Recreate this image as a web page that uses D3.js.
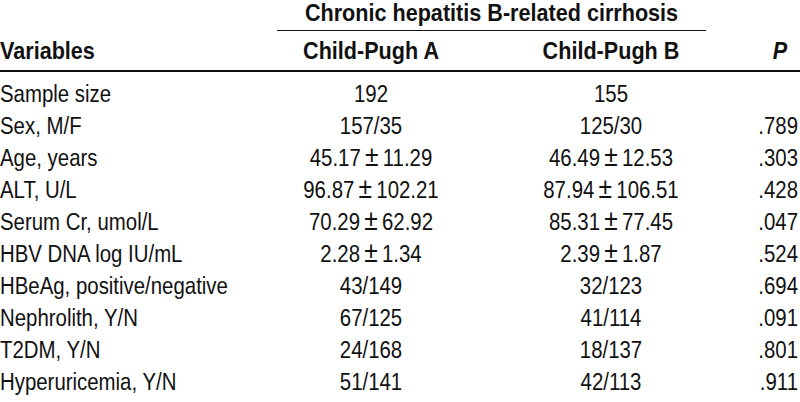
<!DOCTYPE html>
<html>
<head>
<meta charset="utf-8">
<script src="https://cdn.jsdelivr.net/npm/d3@7"></script>
<style>
  html, body { margin: 0; padding: 0; background: #fff; }
  svg { display: block; }
  text { font-family: "Liberation Sans", Arial, sans-serif; fill: #111; }
</style>
</head>
<body>
<svg id="chart" width="800" height="402"></svg>
<script>
const spanningHeader = "Chronic hepatitis B-related cirrhosis";
const columnHeaders = ["Variables", "Child-Pugh A", "Child-Pugh B", "P"];
const variables = ["Sample size", "Sex, M/F", "Age, years", "ALT, U/L", "Serum Cr, umol/L",
  "HBV DNA log IU/mL", "HBeAg, positive/negative", "Nephrolith, Y/N", "T2DM, Y/N", "Hyperuricemia, Y/N"];
const childPughA = ["192", "157/35", "45.17\u00B111.29", "96.87\u00B1102.21", "70.29\u00B162.92",
  "2.28\u00B11.34", "43/149", "67/125", "24/168", "51/141"];
const childPughB = ["155", "125/30", "46.49\u00B112.53", "87.94\u00B1106.51", "85.31\u00B177.45",
  "2.39\u00B11.87", "32/123", "41/114", "18/137", "42/113"];
const pValues = ["", ".789", ".303", ".428", ".047", ".524", ".694", ".091", ".801", ".911"];

const W = 800, H = 402;
const svg = d3.select("#chart");
const fs = 24;
const sxReg = 0.85, sxBold = 0.9;

const colX = d3.scaleOrdinal().domain(["var", "A", "B", "P"]).range([0, 371, 611, 780]);
const rowY = d3.scalePoint().domain(d3.range(variables.length)).range([102, 390]);

function condensedText(sel, x, y, sx) {
  return sel.attr("transform", `translate(${x},${y}) scale(${sx},1)`);
}

function fillValue(t, s) {
  const parts = s.split("\u00B1");
  t.text(null);
  if (parts.length === 1) { t.text(s); return; }
  t.append("tspan").text(parts[0]);
  t.append("tspan").attr("dx", 5).attr("font-size", 29).text("\u00B1");
  t.append("tspan").attr("dx", 5).text(parts[1]);
}

// spanning header
const spanL = 277, spanR = 706;
condensedText(svg.append("text"), (spanL + spanR) / 2, 21, sxBold)
  .attr("text-anchor", "middle")
  .attr("font-size", fs).attr("font-weight", "bold")
  .text(spanningHeader);
svg.append("line")
  .attr("x1", spanL).attr("x2", spanR).attr("y1", 30.5).attr("y2", 30.5)
  .attr("stroke", "#111").attr("stroke-width", 1.2);

// column headers
const keys = ["var", "A", "B", "P"];
svg.selectAll("text.colhead").data(columnHeaders).join("text")
  .attr("class", "colhead")
  .attr("transform", (d, i) => `translate(${colX(keys[i])},59) scale(${sxBold},1)`)
  .attr("text-anchor", (d, i) => i === 0 ? "start" : "middle")
  .attr("font-size", fs).attr("font-weight", "bold")
  .attr("font-style", (d, i) => i === 3 ? "italic" : "normal")
  .text(d => d);

svg.append("line")
  .attr("x1", 0).attr("x2", W).attr("y1", 71).attr("y2", 71)
  .attr("stroke", "#111").attr("stroke-width", 1.8);

// body
const rows = svg.selectAll("g.row").data(variables).join("g")
  .attr("class", "row")
  .attr("transform", (d, i) => `translate(0,${rowY(i)})`);

rows.append("text")
  .attr("transform", `translate(${colX("var")},0) scale(${sxReg},1)`)
  .attr("font-size", fs).text(d => d);
rows.append("text")
  .attr("transform", `translate(${colX("A")},0) scale(${sxReg},1)`)
  .attr("text-anchor", "middle").attr("font-size", fs)
  .each(function(d, i) { fillValue(d3.select(this), childPughA[i]); });
rows.append("text")
  .attr("transform", `translate(${colX("B")},0) scale(${sxReg},1)`)
  .attr("text-anchor", "middle").attr("font-size", fs)
  .each(function(d, i) { fillValue(d3.select(this), childPughB[i]); });
rows.append("text")
  .attr("transform", `translate(798,0) scale(${sxReg},1)`)
  .attr("text-anchor", "end").attr("font-size", fs)
  .text((d, i) => pValues[i]);
</script>
</body>
</html>
